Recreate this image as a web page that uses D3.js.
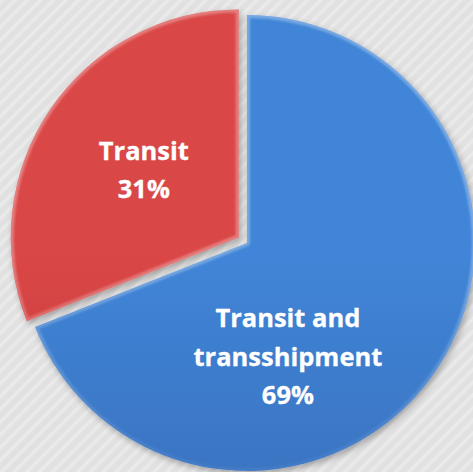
<!DOCTYPE html>
<html>
<head>
<meta charset="utf-8">
<script src="https://cdn.jsdelivr.net/npm/d3@7"></script>
<style>
  html, body { margin: 0; padding: 0; background: #e2e2e2; }
  svg { display: block; }
</style>
</head>
<body>
<svg id="chart" width="473" height="472"></svg>
<script>
// ---- data ----
const categories = ["Transit and transshipment", "Transit"];
const values = [69, 31];
const labelLines = [["Transit and", "transshipment", "69%"], ["Transit", "31%"]];
const colorsTop = ["#4085d7", "#da4646"];
const colorsBottom = ["#3462ab", "#b23232"];
const explode = [0, 10];
// label placement: fraction along slice angle, fraction of radius
const labelT = [0.645, 0.51];
const labelR = [0.53, 0.51];

// ---- layout ----
const W = 473, H = 472;
const cx = 247, cy = 243, R = 228;
const svg = d3.select("#chart");
const defs = svg.append("defs");

// background
const pat = defs.append("pattern").attr("id", "stripes")
  .attr("patternUnits", "userSpaceOnUse").attr("width", 9).attr("height", 9)
  .attr("patternTransform", "rotate(45)");
pat.append("rect").attr("width", 9).attr("height", 9).attr("fill", "#e1e1e1");
pat.append("rect").attr("width", 3.5).attr("height", 9).attr("fill", "#eaeaea");
svg.append("rect").attr("width", W).attr("height", H).attr("fill", "url(#stripes)");

// shadow filter
const sh = defs.append("filter").attr("id", "shadow")
  .attr("x", "-20%").attr("y", "-20%").attr("width", "140%").attr("height", "140%");
sh.append("feGaussianBlur").attr("in", "SourceAlpha").attr("stdDeviation", 3).attr("result", "b");
sh.append("feOffset").attr("in", "b").attr("dx", 2).attr("dy", 3).attr("result", "o");
sh.append("feFlood").attr("flood-color", "#000").attr("flood-opacity", 0.3).attr("result", "f");
sh.append("feComposite").attr("in", "f").attr("in2", "o").attr("operator", "in").attr("result", "s");
const mg = sh.append("feMerge");
mg.append("feMergeNode").attr("in", "s");
mg.append("feMergeNode").attr("in", "SourceGraphic");

const blur = defs.append("filter").attr("id", "soft");
blur.append("feGaussianBlur").attr("stdDeviation", 1.2);

// edge gradient (lit top, dark bottom)
const eg = defs.append("linearGradient").attr("id", "edge")
  .attr("gradientUnits", "userSpaceOnUse")
  .attr("x1", 0).attr("y1", cy - R).attr("x2", 0).attr("y2", cy + R);
eg.append("stop").attr("offset", 0).attr("stop-color", "#fff").attr("stop-opacity", 0.3);
eg.append("stop").attr("offset", 0.45).attr("stop-color", "#fff").attr("stop-opacity", 0.05);
eg.append("stop").attr("offset", 0.65).attr("stop-color", "#000").attr("stop-opacity", 0.12);
eg.append("stop").attr("offset", 1).attr("stop-color", "#000").attr("stop-opacity", 0.38);

values.forEach((v, i) => {
  const g = defs.append("linearGradient").attr("id", "fill" + i)
    .attr("gradientUnits", "userSpaceOnUse")
    .attr("x1", 0).attr("y1", cy - R).attr("x2", 0).attr("y2", cy + R);
  g.append("stop").attr("offset", 0).attr("stop-color", colorsTop[i]);
  g.append("stop").attr("offset", 1).attr("stop-color", colorsBottom[i]);
});

const pie = d3.pie().sort(null).value(d => d).startAngle(0).endAngle(2 * Math.PI);
const arcs = pie(values);
const arc = d3.arc().innerRadius(0).outerRadius(R);

const root = svg.append("g").attr("transform", `translate(${cx},${cy})`);

arcs.forEach((a, i) => {
  const mid = (a.startAngle + a.endAngle) / 2;
  const ox = Math.sin(mid) * explode[i], oy = -Math.cos(mid) * explode[i];
  const sg = root.append("g").attr("transform", `translate(${ox},${oy})`);
  const d = arc(a);
  defs.append("clipPath").attr("id", "clip" + i)
    .append("path").attr("d", d).attr("transform", `translate(${cx + ox},${cy + oy})`);
  sg.append("path").attr("d", d).attr("fill", `url(#fill${i})`).attr("filter", "url(#shadow)");
  // bevel
  svg.append("g").attr("clip-path", `url(#clip${i})`)
    .append("path").attr("d", d)
    .attr("transform", `translate(${cx + ox},${cy + oy})`)
    .attr("fill", "none").attr("stroke", "url(#edge)").attr("stroke-width", 6)
    .attr("stroke-linejoin", "round")
    .attr("filter", "url(#soft)");
});

// labels
const lineH = 38.5, capHalf = 9;
arcs.forEach((a, i) => {
  const mid = (a.startAngle + a.endAngle) / 2;
  const ox = Math.sin(mid) * explode[i], oy = -Math.cos(mid) * explode[i];
  const ang = a.startAngle + labelT[i] * (a.endAngle - a.startAngle);
  const rho = labelR[i] * R;
  const lx = cx + ox + Math.sin(ang) * rho;
  const ly = cy + oy - Math.cos(ang) * rho;
  const lines = labelLines[i];
  const t = svg.append("text")
    .attr("text-anchor", "middle")
    .attr("font-family", "'Open Sans', sans-serif")
    .attr("font-weight", "bold")
    .attr("font-size", 25.5)
    .attr("fill", "#fff")
    .attr("stroke", "#fff").attr("stroke-width", 0.3);
  lines.forEach((ln, k) => {
    t.append("tspan").attr("x", lx)
      .attr("y", ly + (k - (lines.length - 1) / 2) * lineH + capHalf)
      .text(ln);
  });
});
</script>
</body>
</html>
